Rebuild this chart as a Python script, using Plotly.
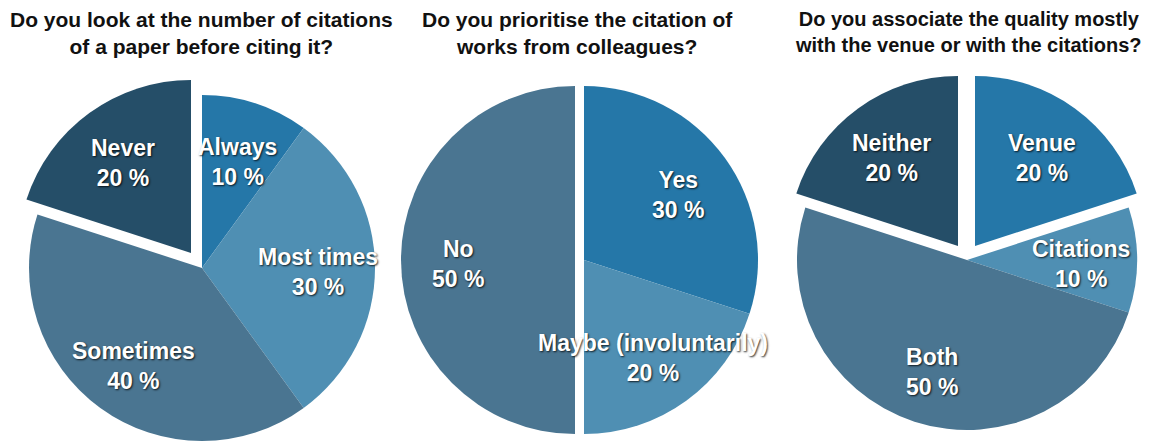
import math
import plotly.graph_objects as go

W, H = 1151, 441

# Data
q1_title = "Do you look at the number of citations<br>of a paper before citing it?"
q1_labels = ["Always", "Most times", "Sometimes", "Never"]
q1_values = [10, 30, 40, 20]

q2_title = "Do you prioritise the citation of<br>works from colleagues?"
q2_labels = ["Yes", "Maybe (involuntarily)", "No"]
q2_values = [30, 20, 50]

q3_title = "Do you associate the quality mostly<br>with the venue or with the citations?"
q3_labels = ["Venue", "Citations", "Both", "Neither"]
q3_values = [20, 10, 50, 20]

# Styles
BLUE = "#2577a8"
LIGHT = "#4f8fb3"
MID = "#4a7591"
DARK = "#254e68"
q1_colors = [BLUE, LIGHT, MID, DARK]
q2_colors = [BLUE, LIGHT, MID]
q3_colors = [BLUE, LIGHT, MID, DARK]

FONT = "Liberation Sans, Arial, sans-serif"
LABEL_FRAC = 0.67  # label distance along slice bisector, fraction of radius
LABEL_DY = 4       # small downward nudge of label block (px)

fig = go.Figure()


def domain(cx, cy, r):
    return dict(x=[(cx - r) / W, (cx + r) / W],
                y=[(H - (cy + r)) / H, (H - (cy - r)) / H])


def pie_part(labels, values, colors, show, cx, cy, r):
    cols = [c if s else "rgba(0,0,0,0)" for c, s in zip(colors, show)]
    fig.add_trace(go.Pie(
        labels=labels, values=values, textinfo="none",
        sort=False, direction="clockwise", rotation=0,
        marker=dict(colors=cols, line=dict(width=0)),
        domain=domain(cx, cy, r), showlegend=False, hoverinfo="label+value",
    ))
    # slice labels, placed along each visible slice's bisector
    total = sum(values)
    cum = 0
    for l, v, s in zip(labels, values, show):
        theta = math.radians((cum + v / 2) / total * 360)
        cum += v
        if not s:
            continue
        px = cx + LABEL_FRAC * r * math.sin(theta)
        py = cy - LABEL_FRAC * r * math.cos(theta) + LABEL_DY
        fig.add_annotation(
            text=f"{l}<br>{v} %", x=px / W, y=1 - py / H,
            xref="paper", yref="paper", xanchor="center", yanchor="middle",
            showarrow=False,
            font=dict(family=FONT, size=23, color="white", weight="bold",
                      shadow="1px 1px 2px rgba(0,0,0,0.8)"),
        )


# Pie 1: Never exploded
pie_part(q1_labels, q1_values, q1_colors, [0, 0, 0, 1], 191, 253, 173)
pie_part(q1_labels, q1_values, q1_colors, [1, 1, 1, 0], 202, 268, 173)
# Pie 2: No exploded
pie_part(q2_labels, q2_values, q2_colors, [0, 0, 1], 575, 260, 174)
pie_part(q2_labels, q2_values, q2_colors, [1, 1, 0], 584, 260, 174)
# Pie 3: Venue and Neither exploded
pie_part(q3_labels, q3_values, q3_colors, [1, 0, 0, 0], 975, 246, 170)
pie_part(q3_labels, q3_values, q3_colors, [0, 0, 0, 1], 958, 246, 170)
pie_part(q3_labels, q3_values, q3_colors, [0, 1, 1, 0], 967, 260, 170)

for title, cx, fs in [(q1_title, 201, 21), (q2_title, 577, 21), (q3_title, 968, 20)]:
    fig.add_annotation(text=title, x=cx / W, y=1 - 6 / H, xref="paper", yref="paper",
                       xanchor="center", yanchor="top", showarrow=False,
                       font=dict(family=FONT, size=fs, color="#111111", weight="bold"))

fig.update_layout(
    width=W, height=H, margin=dict(l=0, r=0, t=0, b=0),
    paper_bgcolor="white", plot_bgcolor="white",
)

fig.write_html("out.html")
